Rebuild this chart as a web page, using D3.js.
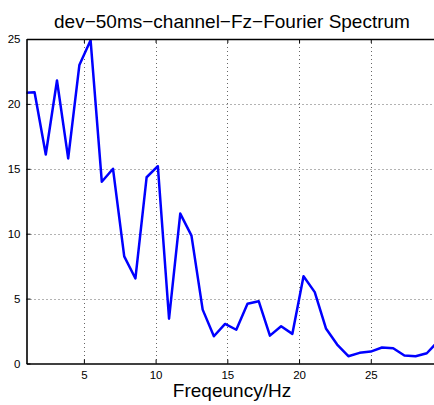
<!DOCTYPE html>
<html>
<head>
<meta charset="utf-8">
<script src="https://cdn.jsdelivr.net/npm/d3@7"></script>
<style>
  html, body { margin: 0; padding: 0; background: #fff; }
  svg { display: block; font-family: "Liberation Sans", Arial, Helvetica, sans-serif; }
</style>
</head>
<body>
<svg id="chart" width="434" height="405"></svg>
<script>
// Spectrum bins (Hz) and amplitudes
const binStep = 0.78125;
const binIndex = d3.range(1, 39);
const amplitude = [
  20.85, 20.9, 16.1, 21.8, 15.8, 23.0, 24.9, 14.0, 15.0, 8.25,
  6.55, 14.35, 15.2, 3.45, 11.55, 9.85, 4.15, 2.1, 3.05, 2.6,
  4.6, 4.8, 2.15, 2.87, 2.28, 6.72, 5.5, 2.7, 1.46, 0.56,
  0.82, 0.92, 1.23, 1.18, 0.62, 0.56, 0.79, 1.7
];
const xTicks = [5, 10, 15, 20, 25];
const yTicks = [0, 5, 10, 15, 20, 25];
const titleText = "dev\u221250ms\u2212channel\u2212Fz\u2212Fourier Spectrum";
const xLabelText = "Freqeuncy/Hz";

const points = binIndex.map((k, i) => ({ f: k * binStep, a: amplitude[i] }));

const svg = d3.select("#chart");
const plotLeft = 26.5, plotRight = 442.5, plotTop = 39, plotBottom = 363.5;

const x = d3.scaleLinear().domain([1, 30]).range([plotLeft, plotRight]);
const y = d3.scaleLinear().domain([0, 25]).range([plotBottom, plotTop]);

// plot-area clip
svg.append("defs").append("clipPath").attr("id", "plotClip")
  .append("rect").attr("x", plotLeft).attr("y", plotTop)
  .attr("width", plotRight - plotLeft).attr("height", plotBottom - plotTop);

// dotted grid
const grid = svg.append("g").attr("stroke", "#666").attr("stroke-width", 1)
  .attr("stroke-dasharray", "1,3");
grid.selectAll(".gx").data(xTicks).enter().append("line")
  .attr("x1", d => Math.round(x(d)) + 0.5).attr("x2", d => Math.round(x(d)) + 0.5)
  .attr("y1", plotTop).attr("y2", plotBottom);
grid.selectAll(".gy").data(yTicks.filter(v => v > 0 && v < 25)).enter().append("line")
  .attr("y1", d => Math.round(y(d)) + 0.5).attr("y2", d => Math.round(y(d)) + 0.5)
  .attr("x1", plotLeft).attr("x2", plotRight);

// spectrum line
const line = d3.line().x(d => x(d.f)).y(d => y(d.a));
svg.append("path").datum(points)
  .attr("clip-path", "url(#plotClip)")
  .attr("fill", "none").attr("stroke", "#0000ff").attr("stroke-width", 2.5)
  .attr("stroke-linejoin", "round")
  .attr("d", line);

// axes (inward ticks)
const xAxis = svg.append("g").attr("transform", `translate(0,${plotBottom})`)
  .call(d3.axisBottom(x).tickValues(xTicks).tickSize(-4).tickPadding(7).tickSizeOuter(0));
const yAxis = svg.append("g").attr("transform", `translate(${plotLeft},0)`)
  .call(d3.axisLeft(y).tickValues(yTicks).tickSize(-4).tickPadding(6).tickSizeOuter(0));
const xTop = svg.append("g").attr("transform", `translate(0,${plotTop})`)
  .call(d3.axisTop(x).tickValues(xTicks).tickSize(-4).tickFormat("").tickSizeOuter(0));

[xAxis, yAxis, xTop].forEach(g => {
  g.select(".domain").attr("stroke", "#000").attr("stroke-width", 1.6);
  g.selectAll(".tick line").attr("stroke", "#000").attr("stroke-width", 1);
  g.selectAll(".tick text").attr("fill", "#000").attr("font-size", 11.5)
    .attr("font-family", "Liberation Sans, Arial, sans-serif");
});

// title and axis label
svg.append("text").attr("x", 232).attr("y", 28).attr("text-anchor", "middle")
  .attr("font-size", 19).attr("fill", "#000").text(titleText);
svg.append("text").attr("x", 232).attr("y", 397).attr("text-anchor", "middle")
  .attr("font-size", 19).attr("fill", "#000").text(xLabelText);
</script>
</body>
</html>
